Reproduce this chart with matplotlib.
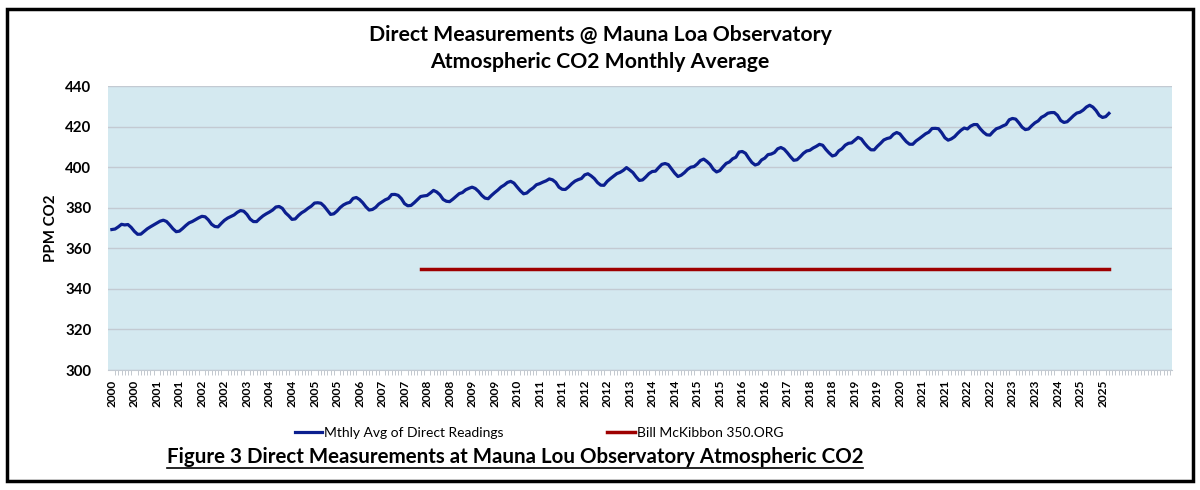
import matplotlib
matplotlib.use("Agg")
import matplotlib.pyplot as plt
from matplotlib.lines import Line2D
from matplotlib.patches import Rectangle

plt.rcParams['font.family'] = ['Lato', 'DejaVu Sans']

# monthly averages, ppm (Jan..Dec)
co2_2000 = [369.25, 369.50, 370.56, 371.82, 371.51, 371.71, 370.30, 368.35, 366.91, 366.96, 368.31, 369.59]
co2_2001 = [370.59, 371.51, 372.43, 373.37, 373.85, 373.21, 371.51, 369.61, 368.18, 368.45, 369.76, 371.24]
co2_2002 = [372.53, 373.20, 374.12, 375.02, 375.76, 375.52, 374.01, 371.85, 370.75, 370.55, 372.25, 373.79]
co2_2003 = [374.88, 375.64, 376.45, 377.73, 378.60, 378.28, 376.70, 374.38, 373.17, 373.15, 374.66, 375.99]
co2_2004 = [377.00, 377.87, 378.88, 380.35, 380.62, 379.69, 377.47, 376.01, 374.25, 374.46, 376.16, 377.51]
co2_2005 = [378.46, 379.73, 380.77, 382.29, 382.45, 382.21, 380.74, 378.74, 376.70, 377.00, 378.35, 380.11]
co2_2006 = [381.38, 382.19, 382.67, 384.61, 385.03, 384.05, 382.46, 380.41, 378.85, 379.13, 380.15, 381.82]
co2_2007 = [382.89, 383.90, 384.58, 386.50, 386.56, 386.10, 384.50, 381.99, 380.96, 381.12, 382.45, 383.95]
co2_2008 = [385.52, 385.82, 386.03, 387.21, 388.54, 387.76, 386.36, 384.09, 383.18, 382.99, 384.19, 385.56]
co2_2009 = [386.94, 387.48, 388.82, 389.55, 390.14, 389.48, 388.03, 386.11, 384.74, 384.43, 386.02, 387.42]
co2_2010 = [388.71, 390.20, 391.17, 392.46, 393.00, 392.15, 390.20, 388.35, 386.85, 387.24, 388.67, 389.79]
co2_2011 = [391.33, 391.86, 392.60, 393.25, 394.19, 393.74, 392.51, 390.13, 389.08, 389.00, 390.28, 391.86]
co2_2012 = [393.12, 393.86, 394.40, 396.18, 396.74, 395.71, 394.36, 392.39, 391.11, 391.05, 392.98, 394.34]
co2_2013 = [395.55, 396.80, 397.43, 398.41, 399.78, 398.60, 397.32, 395.20, 393.45, 393.70, 395.16, 396.84]
co2_2014 = [397.85, 398.01, 399.77, 401.38, 401.78, 401.25, 399.10, 397.03, 395.38, 396.03, 397.28, 398.91]
co2_2015 = [399.98, 400.28, 401.54, 403.28, 403.96, 402.80, 401.31, 398.93, 397.63, 398.29, 400.16, 401.85]
co2_2016 = [402.56, 404.12, 404.87, 407.45, 407.72, 406.83, 404.41, 402.27, 401.05, 401.59, 403.55, 404.45]
co2_2017 = [406.17, 406.46, 407.22, 409.04, 409.69, 408.88, 407.12, 405.13, 403.37, 403.63, 405.12, 406.81]
co2_2018 = [407.96, 408.32, 409.41, 410.24, 411.24, 410.79, 408.71, 406.99, 405.51, 406.00, 408.02, 409.07]
co2_2019 = [410.83, 411.75, 411.97, 413.32, 414.66, 413.92, 411.77, 409.95, 408.54, 408.53, 410.27, 411.76]
co2_2020 = [413.40, 414.11, 414.51, 416.21, 417.07, 416.39, 414.38, 412.55, 411.29, 411.28, 412.89, 414.02]
co2_2021 = [415.24, 416.45, 417.25, 419.05, 419.13, 418.94, 416.96, 414.47, 413.30, 413.93, 415.01, 416.71]
co2_2022 = [418.19, 419.28, 418.81, 420.23, 420.99, 420.99, 418.90, 417.19, 415.95, 415.78, 417.51, 418.95]
co2_2023 = [419.47, 420.31, 420.99, 423.36, 424.00, 423.68, 421.83, 419.68, 418.51, 418.82, 420.46, 421.86]
co2_2024 = [422.80, 424.55, 425.38, 426.57, 426.90, 426.91, 425.55, 422.99, 422.03, 422.38, 423.85, 425.40]
co2_2025 = [426.65, 427.09, 428.15, 429.64, 430.51, 429.61, 427.87, 425.48, 424.50, 424.90, 426.50]

co2 = (co2_2000 + co2_2001 + co2_2002 + co2_2003 + co2_2004 + co2_2005 + co2_2006
       + co2_2007 + co2_2008 + co2_2009 + co2_2010 + co2_2011 + co2_2012 + co2_2013
       + co2_2014 + co2_2015 + co2_2016 + co2_2017 + co2_2018 + co2_2019 + co2_2020
       + co2_2021 + co2_2022 + co2_2023 + co2_2024 + co2_2025)

first_year = 2000
target_ppm = 350          # 350.org target
target_start = "2008-01"  # first month the target series has a value
label_every = 7           # excel labels every 7th category
n_categories = 330        # rows in the sheet range

months = ["%d-%02d" % (first_year + i // 12, i % 12 + 1) for i in range(len(co2))]
x = list(range(len(co2)))
t0 = months.index(target_start)
tx = x[t0:]
ty = [target_ppm] * len(tx)

fig = plt.figure(figsize=(12, 4.9), dpi=100)
ax = fig.add_axes([108 / 1200, 1 - 370 / 490, 1064 / 1200, 284 / 490])
ax.set_facecolor('#D4E9F0')

ax.plot(x, co2, color='#0B1F8F', lw=2.3, label='Mthly Avg of Direct Readings', zorder=3)
ax.plot(tx, ty, color='#9E0000', lw=2.5, label='Bill McKibbon 350.ORG', zorder=3)

ax.set_ylim(300, 440)
ax.set_yticks(range(300, 441, 20))
ax.set_xlim(-1.2, n_categories - 0.4)
ticks = x[::label_every]
ax.set_xticks(ticks)
ax.set_xticklabels([m[:4] for m in months[::label_every]], rotation=90)
ax.set_xticks(range(n_categories), minor=True)
ax.tick_params(axis='x', which='major', length=0, pad=7, labelsize=8.6)
ax.tick_params(axis='x', which='minor', length=3.5, width=0.6, color='#B9BFC6')
ax.tick_params(axis='y', length=0, pad=12, labelsize=10.8)
for lab in ax.get_xticklabels() + ax.get_yticklabels():
    lab.set_fontweight('bold')

ax.grid(axis='y', color='#C3CAD2', lw=1)
ax.set_axisbelow(True)
for s in ['top', 'right', 'left']:
    ax.spines[s].set_visible(False)
ax.spines['bottom'].set_color('#C3CAD2')

ax.set_ylabel('PPM CO2', fontweight='bold', fontsize=10.8, labelpad=5)

fig.text(0.5, 1 - 35 / 490, 'Direct Measurements @ Mauna Loa Observatory',
         ha='center', va='center', fontsize=15.3, fontweight='bold')
fig.text(0.5, 1 - 62 / 490, 'Atmospheric CO2 Monthly Average',
         ha='center', va='center', fontsize=15.3, fontweight='bold')

fig.legend(loc='center', bbox_to_anchor=(0.449, 1 - 433 / 490), ncol=2, frameon=False,
           fontsize=10, handlelength=2.0, handletextpad=0.1, columnspacing=7.5)

cap = fig.text(515 / 1200, 1 - 457 / 490,
               'Figure 3 Direct Measurements at Mauna Lou Observatory Atmospheric CO2',
               ha='center', va='center', fontsize=14.8, fontweight='bold')

# outer frame
fig.patches.append(Rectangle((7 / 1200, 1 - 481 / 490), 1186 / 1200, 472 / 490,
                             transform=fig.transFigure, fill=False, ec='black', lw=2.5))

# underline the caption
fig.canvas.draw()
bb = cap.get_window_extent()
W, H = fig.bbox.width, fig.bbox.height
uy = (bb.y0 - 1) / H
fig.add_artist(Line2D([bb.x0 / W, bb.x1 / W], [uy, uy], color='black', lw=1.2,
                      transform=fig.transFigure))

fig.savefig('out.png', dpi=100)
